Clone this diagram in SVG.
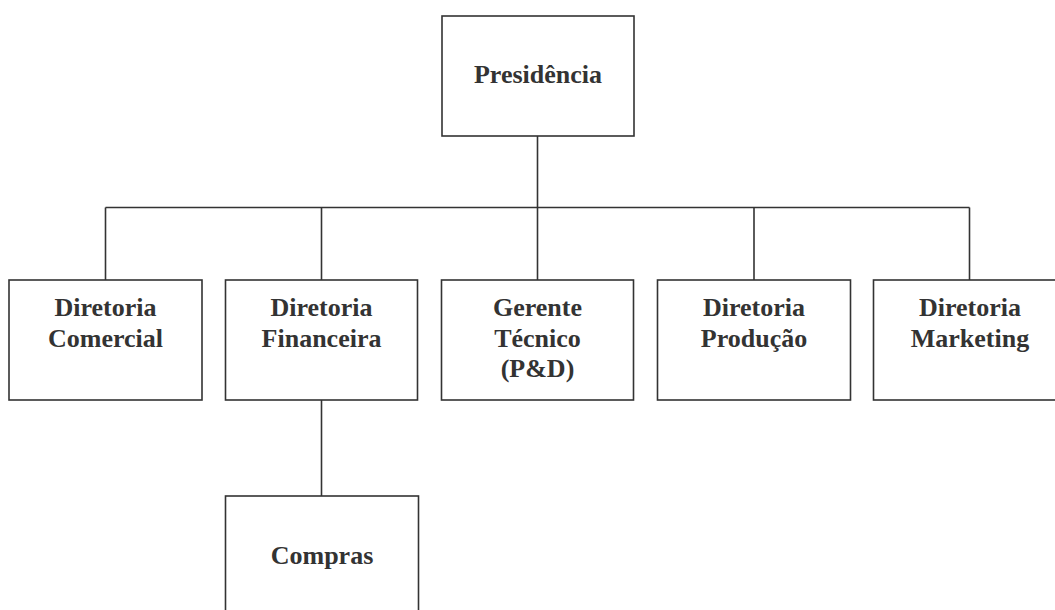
<svg xmlns="http://www.w3.org/2000/svg" width="1055" height="610" viewBox="0 0 1055 610">
  <style>
    .box { fill: #ffffff; stroke: #333333; stroke-width: 1.6; }
    .link { fill: none; stroke: #333333; stroke-width: 1.6; }
    .label { font-family: "Liberation Serif", "Times New Roman", serif; font-weight: bold; font-size: 26px; fill: #333333; text-anchor: middle; }
  </style>
  <rect width="1055" height="610" fill="#ffffff"/>

  <!-- connectors -->
  <g id="connectors">
    <line class="link" x1="537.5" y1="136" x2="537.5" y2="207.5"/>
    <line class="link" x1="105.5" y1="207.5" x2="969.5" y2="207.5"/>
    <line class="link" x1="105.5" y1="207.5" x2="105.5" y2="280"/>
    <line class="link" x1="321.5" y1="207.5" x2="321.5" y2="280"/>
    <line class="link" x1="537.5" y1="207.5" x2="537.5" y2="280"/>
    <line class="link" x1="754" y1="207.5" x2="754" y2="280"/>
    <line class="link" x1="969.5" y1="207.5" x2="969.5" y2="280"/>
    <line class="link" x1="321.5" y1="400" x2="321.5" y2="496"/>
  </g>

  <g id="presidencia">
    <rect class="box" x="442" y="16" width="192" height="120"/>
    <text class="label" x="538" y="83">Presidência</text>
  </g>

  <g id="diretoria-comercial">
    <rect class="box" x="9" y="280" width="193" height="120"/>
    <text class="label" x="105.5" y="316">Diretoria</text>
    <text class="label" x="105.5" y="346.5">Comercial</text>
  </g>

  <g id="diretoria-financeira">
    <rect class="box" x="225.5" y="280" width="192" height="120"/>
    <text class="label" x="321.5" y="316">Diretoria</text>
    <text class="label" x="321.5" y="346.5">Financeira</text>
  </g>

  <g id="gerente-tecnico">
    <rect class="box" x="441.5" y="280" width="192" height="120"/>
    <text class="label" x="537.5" y="316">Gerente</text>
    <text class="label" x="537.5" y="346.5">Técnico</text>
    <text class="label" x="537.5" y="377">(P&amp;D)</text>
  </g>

  <g id="diretoria-producao">
    <rect class="box" x="657.5" y="280" width="193" height="120"/>
    <text class="label" x="754" y="316">Diretoria</text>
    <text class="label" x="754" y="346.5">Produção</text>
  </g>

  <g id="diretoria-marketing">
    <rect class="box" x="873.5" y="280" width="193" height="120"/>
    <text class="label" x="970" y="316">Diretoria</text>
    <text class="label" x="970" y="346.5">Marketing</text>
  </g>

  <g id="compras">
    <rect class="box" x="225.5" y="496" width="193" height="130"/>
    <text class="label" x="322" y="563.5">Compras</text>
  </g>
</svg>
